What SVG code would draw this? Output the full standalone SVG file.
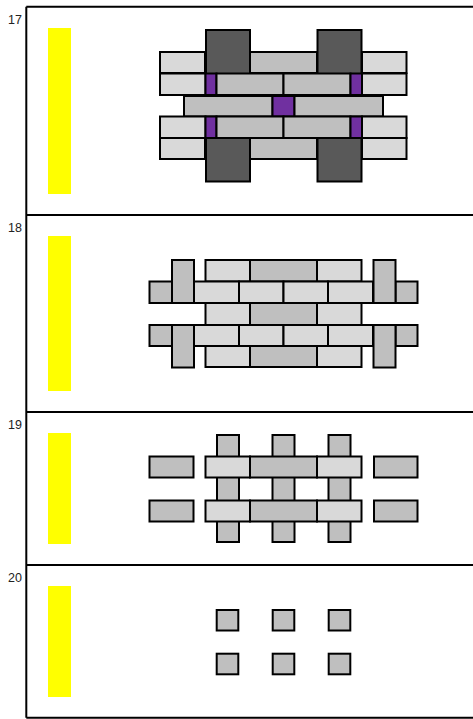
<svg xmlns="http://www.w3.org/2000/svg" width="473" height="719" viewBox="0 0 473 719">
<style>
.b{stroke:#000;stroke-width:2}
.l{fill:#d9d9d9}
.g{fill:#bfbfbf}
.d{fill:#595959}
.p{fill:#7030a0}
.y{fill:#ffff00}
.t{font-family:"Liberation Sans",Arial,sans-serif;font-size:12.5px;fill:#222}
.f{stroke:#000;stroke-width:2;fill:none}
</style>
<rect width="473" height="719" fill="#fff"/>
<g id="frame">
<path class="f" d="M26.3 6.7H473M26.3 6.7V717.8M26.3 215H473M26.3 412H473M26.3 565H473M26.3 717.8H473"/>
</g>
<g id="labels">
<text class="t" x="8" y="24">17</text>
<text class="t" x="8" y="232">18</text>
<text class="t" x="8" y="429">19</text>
<text class="t" x="8" y="582">20</text>
</g>
<g id="bars">
<rect class="y" x="48" y="28" width="23" height="166"/>
<rect class="y" x="48" y="236" width="23" height="155"/>
<rect class="y" x="48" y="433" width="23" height="111"/>
<rect class="y" x="48" y="586" width="23" height="111"/>
</g>
<g id="panel17">
<rect class="b l" x="160" y="52" width="45" height="21"/>
<rect class="b g" x="250" y="52" width="67" height="21"/>
<rect class="b l" x="362" y="52" width="44.5" height="21"/>
<rect class="b l" x="160" y="138" width="45" height="21"/>
<rect class="b g" x="250" y="138" width="67" height="21"/>
<rect class="b l" x="362" y="138" width="44.5" height="21"/>
<rect class="b d" x="206" y="30" width="44" height="151.5"/>
<rect class="b d" x="317.5" y="30" width="44" height="151.5"/>
<rect class="b l" x="160" y="73.5" width="45.5" height="21.5"/>
<rect class="b p" x="205.5" y="73.5" width="11" height="21.5"/>
<rect class="b g" x="216.5" y="73.5" width="67" height="21.5"/>
<rect class="b g" x="283.5" y="73.5" width="67" height="21.5"/>
<rect class="b p" x="350.5" y="73.5" width="11.5" height="21.5"/>
<rect class="b l" x="362" y="73.5" width="44.5" height="21.5"/>
<rect class="b g" x="184" y="96" width="88.5" height="20.5"/>
<rect class="b p" x="272.5" y="96" width="22" height="20.5"/>
<rect class="b g" x="294.5" y="96" width="88.5" height="20.5"/>
<rect class="b l" x="160" y="116.5" width="45.5" height="21.5"/>
<rect class="b p" x="205.5" y="116.5" width="11" height="21.5"/>
<rect class="b g" x="216.5" y="116.5" width="67" height="21.5"/>
<rect class="b g" x="283.5" y="116.5" width="67" height="21.5"/>
<rect class="b p" x="350.5" y="116.5" width="11.5" height="21.5"/>
<rect class="b l" x="362" y="116.5" width="44.5" height="21.5"/>
</g>
<g id="panel18">
<rect class="b l" x="205.5" y="260" width="44.5" height="21.5"/>
<rect class="b g" x="250" y="260" width="67" height="21.5"/>
<rect class="b l" x="317" y="260" width="44.5" height="21.5"/>
<rect class="b l" x="205.5" y="303" width="44.5" height="22"/>
<rect class="b g" x="250" y="303" width="67" height="22"/>
<rect class="b l" x="317" y="303" width="44.5" height="22"/>
<rect class="b l" x="205.5" y="346" width="44.5" height="21"/>
<rect class="b g" x="250" y="346" width="67" height="21"/>
<rect class="b l" x="317" y="346" width="44.5" height="21"/>
<rect class="b g" x="149.5" y="281.5" width="22.5" height="21.5"/>
<rect class="b l" x="194" y="281.5" width="45" height="21.5"/>
<rect class="b l" x="239" y="281.5" width="44.5" height="21.5"/>
<rect class="b l" x="283.5" y="281.5" width="44.5" height="21.5"/>
<rect class="b l" x="328" y="281.5" width="45" height="21.5"/>
<rect class="b g" x="395.5" y="281.5" width="22" height="21.5"/>
<rect class="b g" x="149.5" y="325" width="22.5" height="21"/>
<rect class="b l" x="194" y="325" width="45" height="21"/>
<rect class="b l" x="239" y="325" width="44.5" height="21"/>
<rect class="b l" x="283.5" y="325" width="44.5" height="21"/>
<rect class="b l" x="328" y="325" width="45" height="21"/>
<rect class="b g" x="395.5" y="325" width="22" height="21"/>
<rect class="b g" x="172" y="260" width="22" height="43"/>
<rect class="b g" x="373.5" y="260" width="22" height="43"/>
<rect class="b g" x="172" y="325" width="22" height="42.5"/>
<rect class="b g" x="373.5" y="325" width="22" height="42.5"/>
</g>
<g id="panel19">
<rect class="b g" x="217" y="435" width="22" height="107"/>
<rect class="b g" x="272.5" y="435" width="22" height="107"/>
<rect class="b g" x="328.5" y="435" width="22" height="107"/>
<rect class="b g" x="149.5" y="456.5" width="44" height="21"/>
<rect class="b l" x="205.5" y="456.5" width="44.5" height="21"/>
<rect class="b g" x="250" y="456.5" width="67" height="21"/>
<rect class="b l" x="317" y="456.5" width="44.5" height="21"/>
<rect class="b g" x="374" y="456.5" width="43.5" height="21"/>
<rect class="b g" x="149.5" y="500.5" width="44" height="21"/>
<rect class="b l" x="205.5" y="500.5" width="44.5" height="21"/>
<rect class="b g" x="250" y="500.5" width="67" height="21"/>
<rect class="b l" x="317" y="500.5" width="44.5" height="21"/>
<rect class="b g" x="374" y="500.5" width="43.5" height="21"/>
</g>
<g id="panel20">
<rect class="b g" x="216.7" y="610" width="21.6" height="20.5"/>
<rect class="b g" x="272.7" y="610" width="21.6" height="20.5"/>
<rect class="b g" x="328.7" y="610" width="21.6" height="20.5"/>
<rect class="b g" x="216.7" y="653.7" width="21.6" height="20.6"/>
<rect class="b g" x="272.7" y="653.7" width="21.6" height="20.6"/>
<rect class="b g" x="328.7" y="653.7" width="21.6" height="20.6"/>
</g>
</svg>
